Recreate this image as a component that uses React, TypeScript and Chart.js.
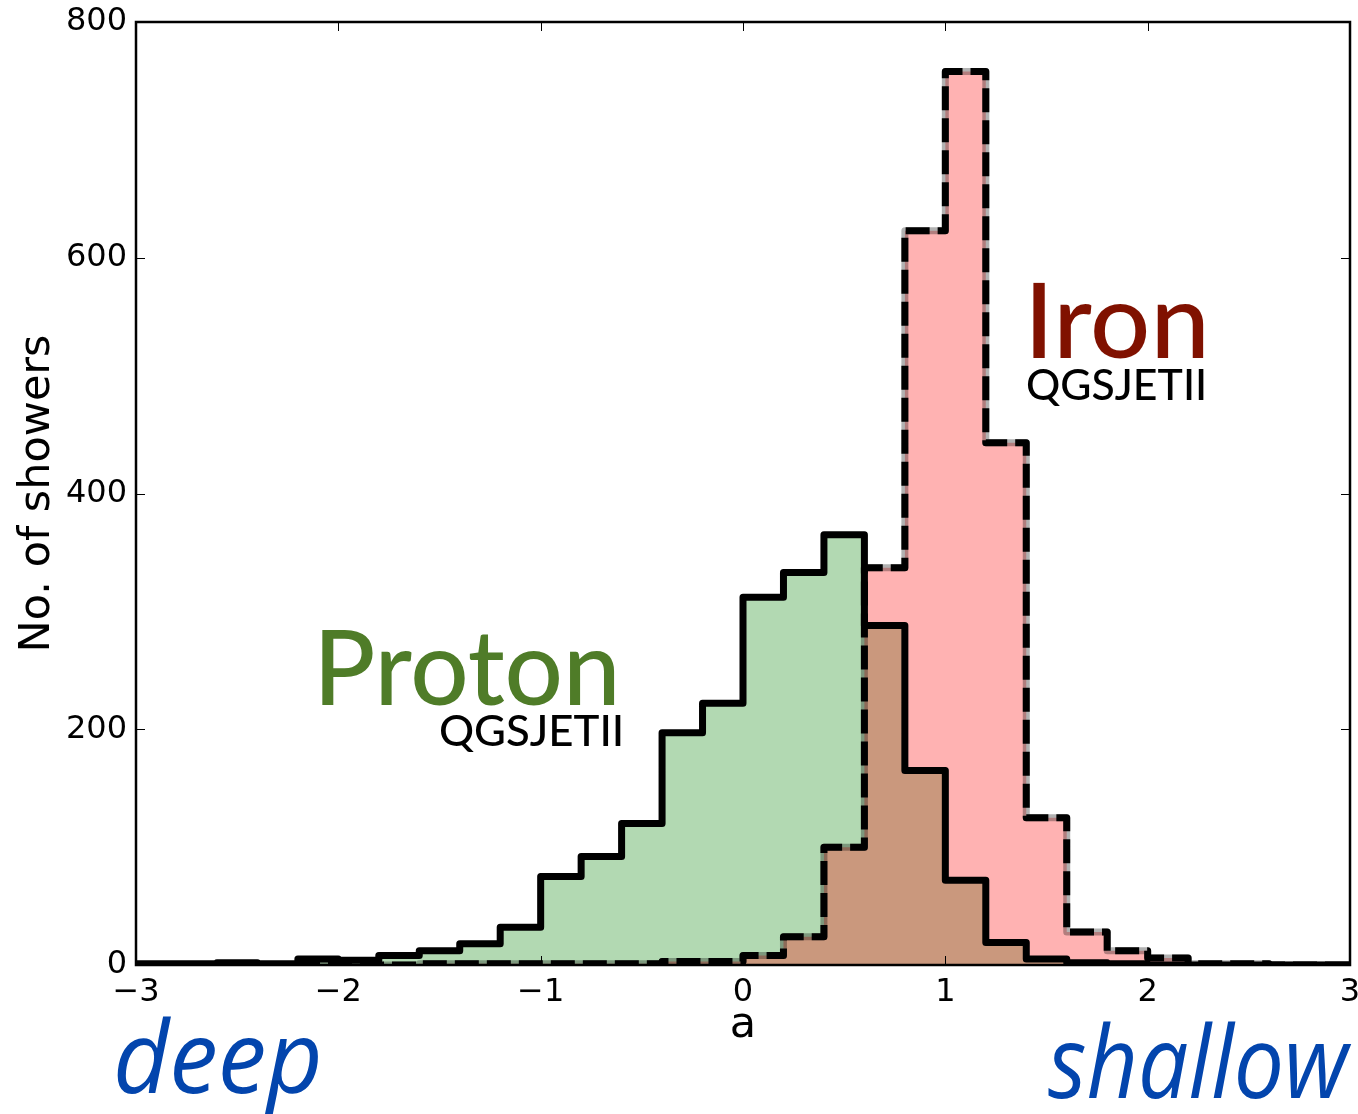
import { useEffect, useRef } from 'react';
import { Chart, registerables } from 'chart.js';

Chart.register(...registerables);

// Histogram bins: left edges (width 0.2) and the closing right edge
const binEdges = [
  -3.0, -2.8, -2.6, -2.4, -2.2, -2.0, -1.8, -1.6, -1.4, -1.2,
  -1.0, -0.8, -0.6, -0.4, -0.2, 0.0, 0.2, 0.4, 0.6, 0.8,
  1.0, 1.2, 1.4, 1.6, 1.8, 2.0, 2.2, 2.4, 2.6, 2.8,
];
const upperEdge = 3.0;

// Number of showers per bin
const protonCounts = [
  1, 1, 2, 1, 5, 4, 8, 12, 18, 32,
  75, 92, 120, 197, 222, 312, 333, 365, 288, 165,
  72, 19, 5, 2, 1, 0, 0, 0, 0, 0,
];
const ironCounts = [
  0, 0, 0, 0, 0, 0, 0, 1, 1, 1,
  1, 1, 1, 3, 3, 8, 24, 100, 337, 623,
  758, 443, 125, 28, 12, 6, 1, 1, 0, 0,
];

const xTicks = [-3, -2, -1, 0, 1, 2, 3];
const yTicks = [0, 200, 400, 600, 800];

const tickFont = { family: '"DejaVu Sans", sans-serif', size: 32, lineHeight: 1.2 };
const labelFont = { family: '"DejaVu Sans", sans-serif', size: 43, lineHeight: 1 };

const fmt = (v: number | string) => {
  const n = Number(v);
  return n < 0 ? '\u2212' + Math.abs(n) : String(n);
};

// Outline of a step histogram: start at zero, hold each bin value, drop to zero at the end
function stepPoints(counts: number[]) {
  const pts = [{ x: binEdges[0], y: 0 }];
  binEdges.forEach((e, i) => pts.push({ x: e, y: counts[i] }));
  pts.push({ x: upperEdge, y: 0 });
  return pts;
}

// Draws text with its ink starting at x and squeezed/stretched to the given width
function fitText(
  ctx: CanvasRenderingContext2D,
  text: string,
  x: number,
  baseline: number,
  width: number,
  font: string,
  color: string,
) {
  ctx.save();
  ctx.font = font;
  ctx.textBaseline = 'alphabetic';
  ctx.textAlign = 'left';
  const m = ctx.measureText(text);
  const ink = m.actualBoundingBoxLeft + m.actualBoundingBoxRight;
  const s = ink > 0 ? width / ink : 1;
  ctx.translate(x, baseline);
  ctx.scale(s, 1);
  ctx.fillStyle = color;
  ctx.fillText(text, m.actualBoundingBoxLeft, 0);
  ctx.restore();
}

// Box around the axes with inward tick marks on all four sides
const framePlugin = {
  id: 'frameTicks',
  afterDatasetsDraw(chart: any) {
    const { ctx, chartArea: a, scales } = chart;
    const xs = scales.x;
    const ys = scales.y;
    const len = 9;
    ctx.save();
    ctx.strokeStyle = '#000';
    ctx.lineWidth = 1;
    ctx.beginPath();
    xTicks.forEach((v) => {
      const px = Math.round(xs.getPixelForValue(v)) + 0.5;
      ctx.moveTo(px, a.bottom);
      ctx.lineTo(px, a.bottom - len);
      ctx.moveTo(px, a.top);
      ctx.lineTo(px, a.top + len);
    });
    yTicks.forEach((v) => {
      const py = Math.round(ys.getPixelForValue(v)) + 0.5;
      ctx.moveTo(a.left, py);
      ctx.lineTo(a.left + len, py);
      ctx.moveTo(a.right, py);
      ctx.lineTo(a.right - len, py);
    });
    ctx.stroke();
    ctx.lineWidth = 2.5;
    ctx.strokeRect(a.left, a.top, a.right - a.left, a.bottom - a.top);
    ctx.restore();
  },
};

// Species labels inside the plot and the deep / shallow hints under the axis
const labelPlugin = {
  id: 'speciesLabels',
  afterDraw(chart: any) {
    const ctx = chart.ctx as CanvasRenderingContext2D;
    const gill = (px: number) => `500 ${px}px Lato, "Open Sans", sans-serif`;
    const hint = (px: number) => `italic 500 ${px}px "Open Sans", Lato, sans-serif`;
    fitText(ctx, 'Proton', 322, 705, 293, gill(105), '#4f7c28');
    fitText(ctx, 'QGSJETII', 440, 746, 181, gill(43), '#000000');
    fitText(ctx, 'Iron', 1033, 358, 171, gill(105), '#801100');
    fitText(ctx, 'QGSJETII', 1027, 400, 177, gill(43), '#000000');
    fitText(ctx, 'deep', 117, 1093, 201, hint(100), '#0345ad');
    fitText(ctx, 'shallow', 1048, 1098, 304, hint(100), '#0345ad');
  },
};

export default function App() {
  const ref = useRef<HTMLCanvasElement>(null);

  useEffect(() => {
    if (!ref.current) return;
    const protonPts = stepPoints(protonCounts);
    const ironPts = stepPoints(ironCounts);

    const base = {
      stepped: true,
      pointRadius: 0,
      pointHoverRadius: 0,
      tension: 0,
    };

    const chart = new Chart(ref.current, {
      type: 'line',
      data: {
        // Drawn from last to first: proton fill, iron fill with faint edge, iron dashes, proton outline
        datasets: [
          {
            ...base,
            label: 'Proton',
            data: protonPts,
            borderColor: '#000000',
            borderWidth: 7,
            borderJoinStyle: 'round',
            fill: false,
          },
          {
            ...base,
            label: 'Iron',
            data: ironPts,
            borderColor: '#000000',
            borderWidth: 7,
            borderDash: [24, 8],
            borderCapStyle: 'butt',
            borderJoinStyle: 'round',
            fill: false,
          },
          {
            ...base,
            label: 'Iron fill',
            data: ironPts,
            borderColor: 'rgba(0,0,0,0.3)',
            borderWidth: 7,
            borderJoinStyle: 'round',
            backgroundColor: 'rgba(255,0,0,0.3)',
            fill: 'origin',
          },
          {
            ...base,
            label: 'Proton fill',
            data: protonPts,
            borderColor: 'rgba(0,0,0,0)',
            borderWidth: 0,
            backgroundColor: 'rgba(0,128,0,0.3)',
            fill: 'origin',
          },
        ],
      } as any,
      options: {
        responsive: false,
        animation: false,
        events: [],
        layout: { padding: { left: 0, top: 22, right: 8, bottom: 0 } },
        plugins: {
          legend: { display: false },
          tooltip: { enabled: false },
        },
        scales: {
          x: {
            type: 'linear',
            min: -3,
            max: 3,
            afterBuildTicks: (s: any) => {
              s.ticks = xTicks.map((v) => ({ value: v }));
            },
            afterFit: (s: any) => {
              s.height = 149;
              s.paddingLeft = 0;
              s.paddingRight = 0;
            },
            ticks: {
              font: tickFont,
              color: '#000',
              padding: 8,
              maxRotation: 0,
              autoSkip: false,
              callback: fmt,
            },
            grid: { display: false, drawTicks: false },
            border: { display: false },
            title: {
              display: true,
              text: 'a',
              color: '#000',
              font: labelFont,
              padding: { top: 0, bottom: 67 },
            },
          },
          y: {
            type: 'linear',
            min: 0,
            max: 800,
            afterBuildTicks: (s: any) => {
              s.ticks = yTicks.map((v) => ({ value: v }));
            },
            afterFit: (s: any) => {
              s.width = 136;
              s.paddingTop = 0;
              s.paddingBottom = 0;
            },
            ticks: {
              font: tickFont,
              color: '#000',
              padding: 9,
              callback: fmt,
            },
            grid: { display: false, drawTicks: false },
            border: { display: false },
            title: {
              display: true,
              text: 'No. of showers',
              color: '#000',
              font: labelFont,
              padding: { top: 16, bottom: 0 },
            },
          },
        },
      } as any,
      plugins: [framePlugin, labelPlugin],
    });

    return () => chart.destroy();
  }, []);

  return (
    <div
      style={{
        position: 'absolute',
        left: 0,
        top: 0,
        width: 1358,
        height: 1114,
        background: '#ffffff',
        overflow: 'hidden',
      }}
    >
      <canvas ref={ref} width={1358} height={1114} style={{ display: 'block' }} />
    </div>
  );
}
